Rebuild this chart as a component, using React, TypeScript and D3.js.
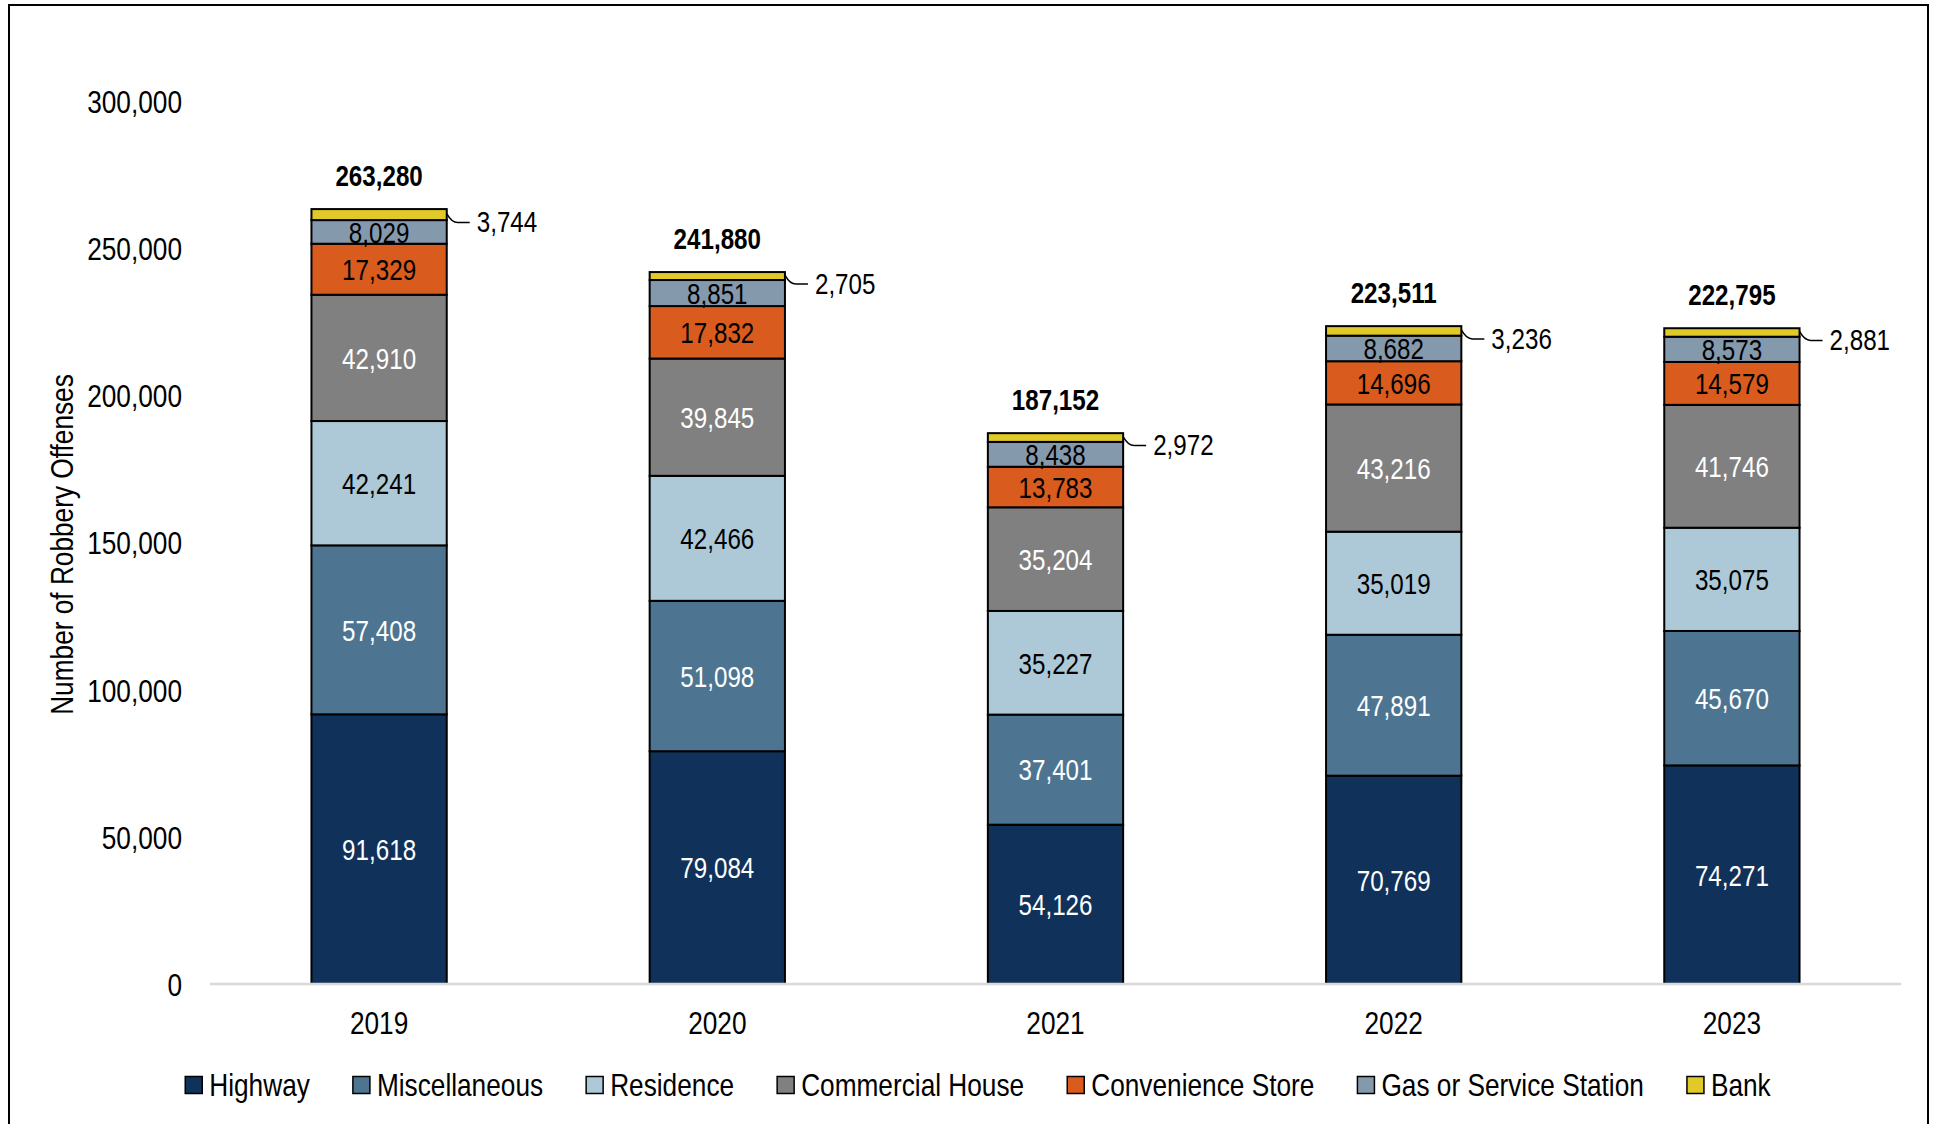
import React from 'react';
import * as d3 from 'd3';

const years = ['2019', '2020', '2021', '2022', '2023'];
const seriesNames = ['Highway', 'Miscellaneous', 'Residence', 'Commercial House', 'Convenience Store', 'Gas or Service Station', 'Bank'];
const highway = [91618, 79084, 54126, 70769, 74271];
const miscellaneous = [57408, 51098, 37401, 47891, 45670];
const residence = [42241, 42466, 35227, 35019, 35075];
const commercialHouse = [42910, 39845, 35204, 43216, 41746];
const convenienceStore = [17329, 17832, 13783, 14696, 14579];
const gasStation = [8029, 8851, 8438, 8682, 8573];
const bank = [3744, 2705, 2972, 3236, 2881];
const totals = [263280, 241880, 187152, 223511, 222795];
const yTicks = [0, 50000, 100000, 150000, 200000, 250000, 300000];

const colors = ['#10325a', '#4d7591', '#adc9d8', '#808080', '#d95b1d', '#8599ad', '#e0c928'];
const labelColors = ['#ffffff', '#ffffff', '#000000', '#ffffff', '#000000', '#000000', '#000000'];

const W = 1939;
const H = 1124;
const FONT = '"Liberation Sans", Arial, sans-serif';
const NARROW = 0.82;

const fmt = d3.format(',');

function measure(text: string, size: number, weight = 'normal') {
  const c = document.createElement('canvas');
  const ctx = c.getContext('2d')!;
  ctx.font = `${weight} ${size}px ${FONT}`;
  return ctx.measureText(text).width * NARROW;
}

function NText(props: {
  x: number;
  y: number;
  size: number;
  anchor?: 'start' | 'middle' | 'end';
  weight?: string;
  fill?: string;
  rotate?: number;
  children: React.ReactNode;
}) {
  const { x, y, size, anchor = 'start', weight = 'normal', fill = '#000', rotate = 0, children } = props;
  return (
    <g transform={`translate(${x},${y}) rotate(${rotate}) scale(${NARROW},1)`}>
      <text
        x={0}
        y={0}
        textAnchor={anchor}
        dominantBaseline="central"
        fontSize={size}
        fontWeight={weight}
        fill={fill}
      >
        {children}
      </text>
    </g>
  );
}

export default function App() {
  const seriesValues = [highway, miscellaneous, residence, commercialHouse, convenienceStore, gasStation, bank];
  const rows = years.map((y, i) => {
    const r: any = { year: y };
    seriesNames.forEach((s, k) => (r[s] = seriesValues[k][i]));
    return r;
  });
  const stacked = d3.stack<any>().keys(seriesNames)(rows);

  const x = d3.scaleBand<string>().domain(years).range([210, 1901]).paddingInner(0.6).paddingOuter(0.3);
  const y = d3.scaleLinear().domain([0, 300000]).range([984, 101]);
  const bw = x.bandwidth();

  const axisFont = 32;
  const labelFont = 29.5;

  // legend layout
  const legendFont = 32;
  const marker = 17;
  const gapMarkerText = 7;
  const gapItems = 43;
  const widths = seriesNames.map((s) => measure(s, legendFont));
  const itemWidths = widths.map((w) => marker + gapMarkerText + w);
  const totalLegend = d3.sum(itemWidths) + gapItems * (seriesNames.length - 1);
  const legendCenter = 978;
  let lx = legendCenter - totalLegend / 2;
  const legendPos = itemWidths.map((w) => {
    const p = lx;
    lx += w + gapItems;
    return p;
  });
  const legendY = 1085;

  return (
    <svg width={W} height={H} style={{ position: 'absolute', left: 0, top: 0, background: '#fff' }} fontFamily={FONT}>
      <rect x={0} y={0} width={W} height={H} fill="#fff" />
      <rect x={9} y={5} width={1919} height={1140} fill="none" stroke="#000" strokeWidth={2} />

      {/* y axis ticks */}
      {yTicks.map((t) => (
        <NText key={t} x={182} y={y(t) + 1} anchor="end" size={axisFont}>
          {fmt(t)}
        </NText>
      ))}
      <NText x={62} y={(y(0) + y(300000)) / 2 + 2} anchor="middle" size={axisFont} rotate={-90}>
        Number of Robbery Offenses
      </NText>

      {/* bars */}
      {stacked.map((layer, k) => (
        <g key={layer.key}>
          {layer.map((d, i) => (
            <rect
              key={i}
              x={x(years[i])!}
              y={y(d[1])}
              width={bw}
              height={y(d[0]) - y(d[1])}
              fill={colors[k]}
              stroke="#000"
              strokeWidth={2}
            />
          ))}
        </g>
      ))}

      {/* segment labels */}
      {stacked.map((layer, k) =>
        k === seriesNames.length - 1
          ? null
          : layer.map((d, i) => (
              <NText
                key={`${k}-${i}`}
                x={x(years[i])! + bw / 2}
                y={(y(d[0]) + y(d[1])) / 2 + 1}
                anchor="middle"
                size={labelFont}
                fill={labelColors[k]}
              >
                {fmt(seriesValues[k][i])}
              </NText>
            ))
      )}

      {/* bank labels with leader lines */}
      {stacked[seriesNames.length - 1].map((d, i) => {
        const bx = x(years[i])! + bw;
        const cy = (y(d[0]) + y(d[1])) / 2;
        const ly = cy + 8;
        return (
          <g key={`bank-${i}`}>
            <path
              d={`M${bx},${cy - 1} Q${bx + 5},${ly} ${bx + 11},${ly} L${bx + 23},${ly}`}
              fill="none"
              stroke="#000"
              strokeWidth={1.5}
            />
            <NText x={bx + 30} y={ly} size={labelFont}>
              {fmt(bank[i])}
            </NText>
          </g>
        );
      })}

      {/* totals */}
      {totals.map((t, i) => (
        <NText key={`tot-${i}`} x={x(years[i])! + bw / 2} y={y(t) - 33} anchor="middle" size={labelFont} weight="bold">
          {fmt(t)}
        </NText>
      ))}

      {/* x axis */}
      <line x1={210} x2={1901} y1={y(0)} y2={y(0)} stroke="#d9d9d9" strokeWidth={2.5} />
      {years.map((yr) => (
        <NText key={yr} x={x(yr)! + bw / 2} y={1023} anchor="middle" size={axisFont}>
          {yr}
        </NText>
      ))}

      {/* legend */}
      {seriesNames.map((s, k) => (
        <g key={s} transform={`translate(${legendPos[k]}, ${legendY})`}>
          <rect x={0} y={-marker / 2} width={marker} height={marker} fill={colors[k]} stroke="#000" strokeWidth={1.5} />
          <NText x={marker + gapMarkerText} y={0} size={legendFont}>
            {s}
          </NText>
        </g>
      ))}
    </svg>
  );
}
